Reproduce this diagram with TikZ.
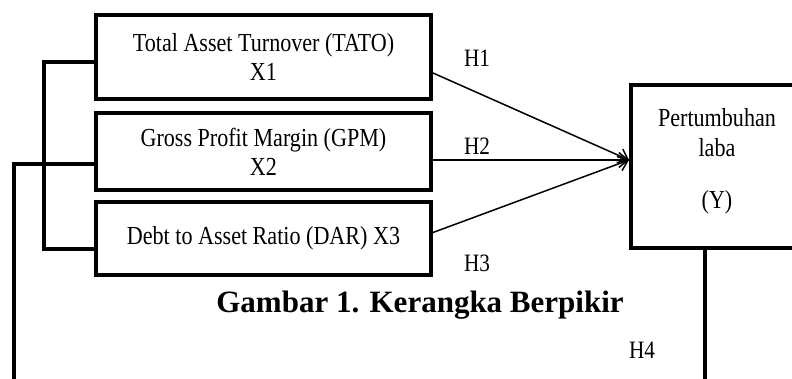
\documentclass[tikz,border=0pt]{standalone}
\usepackage{fontspec}
\setmainfont{Liberation Serif}
\newfontfamily\boxfont[FakeStretch=0.85]{Liberation Serif}
\usetikzlibrary{arrows.meta}
\begin{document}
\begin{tikzpicture}[x=1pt,y=-1pt,
  box/.style={draw,line width=4pt,inner sep=0pt,align=center,
    font=\boxfont\fontsize{26}{29}\selectfont},
  conn/.style={line width=4pt},
  arr/.style={line width=1.5pt,-{Straight Barb[length=9pt,width=15pt,line width=1.5pt]}},
  hlab/.style={font=\boxfont\fontsize{25}{28}\selectfont,inner sep=0pt}]
\useasboundingbox (0,0) rectangle (792,379);
\clip (0,0) rectangle (792,379);
\fill[white] (0,0) rectangle (792,379);
% boxes
\node[box,minimum width=335pt,minimum height=84pt] (x1) at (263.5,57) {Total Asset Turnover (TATO)\\X1};
\node[box,minimum width=335pt,minimum height=77pt] (x2) at (263.5,151.5) {Gross Profit Margin (GPM)\\X2};
\node[box,minimum width=335pt,minimum height=73pt] (x3) at (263.5,238.5) {Debt to Asset Ratio (DAR) X3};
\node[box,minimum width=172pt,minimum height=163pt] (y) at (717,166.5) {};
\node[align=center,inner sep=0pt,font=\boxfont\fontsize{26}{30}\selectfont] (ylab) at (717,161) {Pertumbuhan\\laba\\[22pt](Y)};
% arrows
\coordinate (tgt) at ([yshift=6.5]y.west);
\draw[arr] ([yshift=-16]x1.east) -- (tgt);
\draw[arr] ([yshift=-8.5]x2.east) -- (tgt);
\draw[arr] ([yshift=6]x3.east) -- (tgt);
% left bracket
\draw[conn] ([yshift=-5]x1.west) -- ++(-50,0) |- ([yshift=-11]x3.west);
% outer line
\coordinate (x2in) at ([yshift=-13]x2.west);
\coordinate (bl) at (14,385);
\draw[conn] (x2in) -- (bl |- x2in) -- (bl);
% bottom line from Y
\coordinate (br) at (705,385);
\draw[conn] (y.south -| br) -- (br);
% labels
\node[hlab] (h1) at (477,58) {H1};
\node[hlab] (h2) at (477,146) {H2};
\node[hlab] (h3) at (477,263) {H3};
\node[hlab] (h4) at (642,350) {H4};
% caption
\node[anchor=base,inner sep=0pt,font=\bfseries\fontsize{31}{36}\selectfont] (cap) at (420,312) {Gambar 1. Kerangka Berpikir};
\end{tikzpicture}
\end{document}
